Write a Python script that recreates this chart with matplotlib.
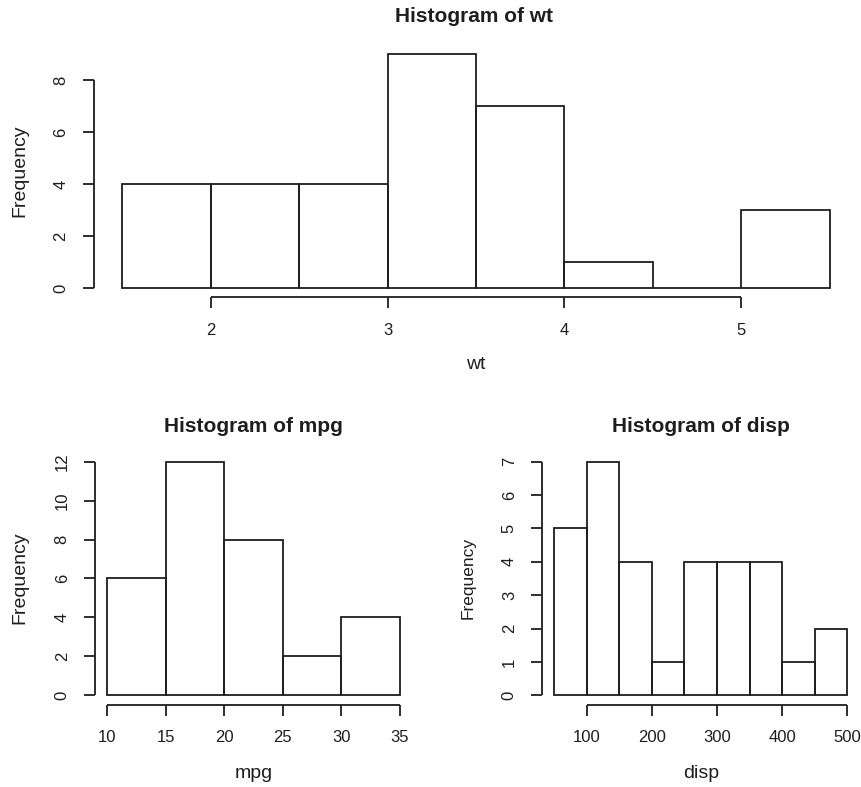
import numpy as np
import matplotlib
matplotlib.use("Agg")
import matplotlib.pyplot as plt

plt.rcParams['font.family'] = ['Liberation Sans', 'DejaVu Sans']

# bin edges and counts
wt_edges = [1.5, 2.0, 2.5, 3.0, 3.5, 4.0, 4.5, 5.0, 5.5]
wt_counts = [4, 4, 4, 9, 7, 1, 0, 3]
wt_xticks = [2, 3, 4, 5]
wt_yticks = [0, 2, 4, 6, 8]

mpg_edges = [10, 15, 20, 25, 30, 35]
mpg_counts = [6, 12, 8, 2, 4]
mpg_xticks = [10, 15, 20, 25, 30, 35]
mpg_yticks = [0, 2, 4, 6, 8, 10, 12]

disp_edges = [50, 100, 150, 200, 250, 300, 350, 400, 450, 500]
disp_counts = [5, 7, 4, 1, 4, 4, 4, 1, 2]
disp_xticks = [100, 200, 300, 400, 500]
disp_yticks = [0, 1, 2, 3, 4, 5, 6, 7]

W, H = 862, 787
INK = '#1e1e1e'
LW = 1.3

fig = plt.figure(figsize=(W / 100, H / 100), dpi=100)


def box(left, right, top, bottom):
    # pixel box -> figure fraction rect
    return [left / W, 1 - bottom / H, (right - left) / W, (bottom - top) / H]


def r_hist(rect, edges, counts, xticks, yticks, ytick_size=12):
    ax = fig.add_axes(rect)
    edges = np.asarray(edges, dtype=float)
    ax.bar(edges[:-1], counts, width=np.diff(edges), align='edge',
           fill=False, edgecolor=INK, linewidth=LW)
    # R style: 4% padding around the data range
    span = edges[-1] - edges[0]
    ax.set_xlim(edges[0] - 0.04 * span, edges[-1] + 0.04 * span)
    top = max(counts)
    ax.set_ylim(-0.04 * top, top * 1.04)
    for s in ['top', 'right']:
        ax.spines[s].set_visible(False)
    for s in ['left', 'bottom']:
        ax.spines[s].set_color(INK)
        ax.spines[s].set_linewidth(LW)
        ax.spines[s].set_capstyle('butt')
    ax.spines['bottom'].set_bounds(xticks[0], xticks[-1])
    ax.spines['left'].set_bounds(yticks[0], yticks[-1])
    ax.set_xticks(xticks)
    ax.set_yticks(yticks)
    ax.tick_params(direction='out', length=7.9, width=LW, color=INK,
                   labelcolor=INK, pad=10.5)
    ax.tick_params(axis='x', labelsize=12)
    ax.tick_params(axis='y', labelsize=ytick_size)
    for lab in ax.get_yticklabels():
        lab.set_rotation(90)
        lab.set_va('center')
    return ax


r_hist(box(94, 858, 44.6, 297.4), wt_edges, wt_counts, wt_xticks, wt_yticks)
r_hist(box(95.3, 411.7, 452.3, 704.6), mpg_edges, mpg_counts, mpg_xticks, mpg_yticks)
r_hist(box(542.4, 859, 452.3, 704.6), disp_edges, disp_counts, disp_xticks, disp_yticks)


def label(x, y, s, **kw):
    fig.text(x / W, 1 - y / H, s, ha='center', va='center', color=INK, **kw)


label(474, 17, 'Histogram of wt', fontsize=15, fontweight='bold')
label(476, 364, 'wt', fontsize=14)
label(20, 171, 'Frequency', fontsize=14, rotation=90)

label(253.5, 426, 'Histogram of mpg', fontsize=15, fontweight='bold')
label(253.5, 773, 'mpg', fontsize=14)
label(20, 578, 'Frequency', fontsize=14, rotation=90)

label(700.7, 426, 'Histogram of disp', fontsize=15, fontweight='bold')
label(700.7, 773, 'disp', fontsize=14)
label(468, 578, 'Frequency', fontsize=12.5, rotation=90)

fig.savefig('out.png', dpi=100)
